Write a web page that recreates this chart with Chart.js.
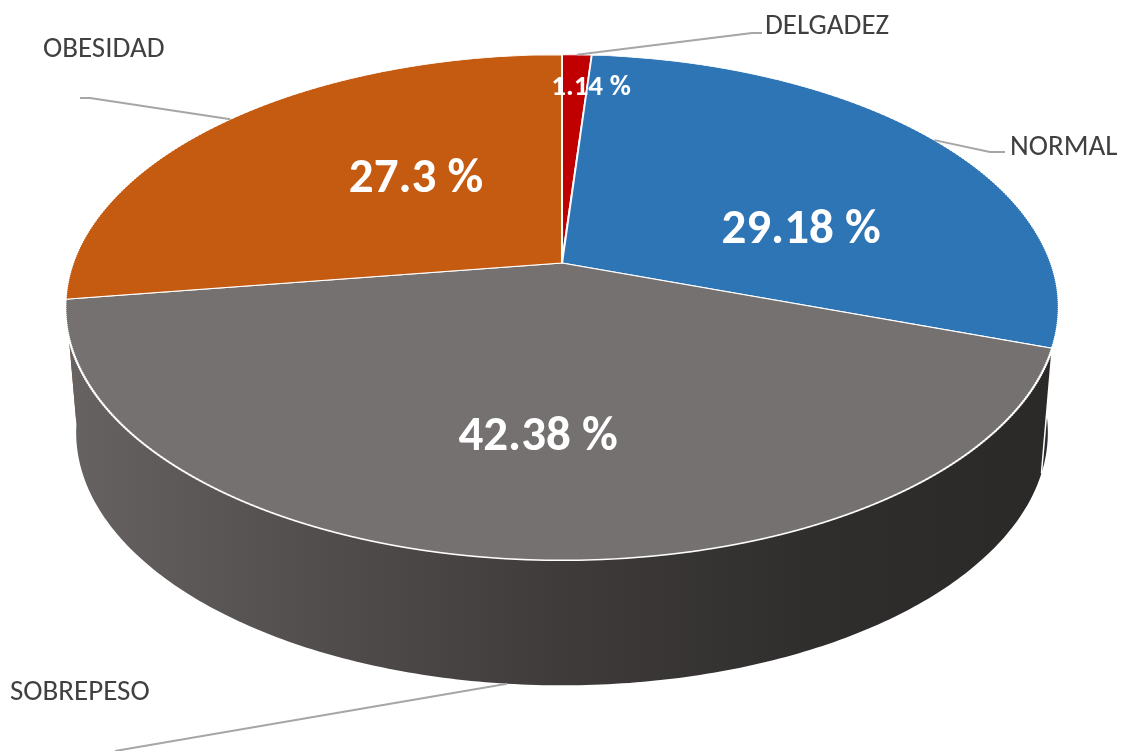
<!DOCTYPE html>
<html>
<head>
<meta charset="utf-8">
<script src="https://cdn.jsdelivr.net/npm/chart.js"></script>
<style>
  html, body { margin: 0; padding: 0; background: #fff; }
  canvas { display: block; }
</style>
</head>
<body>
<canvas id="pie3d" width="1127" height="751" style="width:1127px;height:751px"></canvas>
<script>
// ─── DATA ───────────────────────────────────────────────
const categories = ['DELGADEZ', 'NORMAL', 'SOBREPESO', 'OBESIDAD'];
const percentages = [1.14, 29.18, 42.38, 27.3];

// ─── STYLE / LAYOUT ─────────────────────────────────────
const topColors = ['#c00000', '#2e75b6', '#767171', '#c55a11'];
const sideColors = ['#7a0000', '#2a2c31', 'gradient', '#843c0c'];

// perspective of the disc: screen = c + (a*u, b*v) / (1 + p*v)
const PIE = { cx: 562, cy: 263, a: 489, b: 245, p: -0.176, depth: 125, taper: 0.978 };

// value labels: center x, baseline y, font size
const valueAnchors = [[591, 95, 29], [801, 243, 49], [538, 450, 49], [416, 192, 49]];
// category labels: text left x, baseline y, leader elbow points
const nameAnchors = [
    { x: 765, y: 34, line: [[752, 33], [762, 33]] },
    { x: 1010, y: 155, line: [[990, 152], [1005, 152]] },
    { x: 10, y: 700, line: [[115, 751]] },
    { x: 43, y: 57, line: [[90, 98], [80, 98]] }
];
const FONT = "'Carlito', 'Open Sans', 'Noto Sans', sans-serif";

// ─── HELPER: project a rim angle ────────────────────────
function rimPoint(theta, bottom) {
    const u = Math.cos(theta), v = Math.sin(theta);
    const w = 1 + PIE.p * v;
    let x = PIE.cx + PIE.a * u / w;
    let y = PIE.cy + PIE.b * v / w;
    if (bottom) {
        x = PIE.cx + (x - PIE.cx) * PIE.taper;
        y += PIE.depth;
    }
    return [x, y];
}

function sideFill(ctx, i) {
    if (sideColors[i] !== 'gradient') return sideColors[i];
    const g = ctx.createLinearGradient(PIE.cx - 500, 0, PIE.cx + 500, 0);
    g.addColorStop(0, '#666362');
    g.addColorStop(0.25, '#524e4d');
    g.addColorStop(0.5, '#3f3b3b');
    g.addColorStop(0.75, '#302d2d');
    g.addColorStop(1, '#2b2828');
    return g;
}

// ─── PLUGIN: perspective pie ────────────────────────────
const pie3dPlugin = {
    id: 'pie3d',
    beforeDatasetsDraw(chart) {
        const ctx = chart.ctx;
        const arcs = chart.getDatasetMeta(0).data;

        // side walls (front half), drawn back to front
        const sides = [];
        arcs.forEach((arc, i) => {
            const s = Math.max(arc.startAngle, 0);
            const e = Math.min(arc.endAngle, Math.PI);
            if (e > s) sides.push({ i, s, e, order: Math.abs((s + e) / 2 - Math.PI / 2) });
        });
        sides.sort((m, n) => n.order - m.order);
        sides.forEach(({ i, s, e }) => {
            const steps = Math.max(8, Math.ceil((e - s) * 80));
            ctx.save();
            ctx.beginPath();
            for (let k = 0; k <= steps; k++) {
                const p = rimPoint(s + (e - s) * k / steps, false);
                k ? ctx.lineTo(p[0], p[1]) : ctx.moveTo(p[0], p[1]);
            }
            for (let k = steps; k >= 0; k--) {
                const p = rimPoint(s + (e - s) * k / steps, true);
                ctx.lineTo(p[0], p[1]);
            }
            ctx.closePath();
            ctx.fillStyle = sideFill(ctx, i);
            ctx.fill();
            ctx.restore();
        });

        // white seams where slices meet on the side
        ctx.save();
        ctx.strokeStyle = '#ffffff';
        ctx.lineWidth = 1.5;
        arcs.forEach((arc) => {
            const t = arc.endAngle;
            if (t > 0.18 && t < Math.PI - 0.18) {
                const top = rimPoint(t, false), bot = rimPoint(t, true);
                ctx.beginPath();
                ctx.moveTo(top[0], top[1]);
                ctx.lineTo(bot[0], bot[1]);
                ctx.stroke();
            }
        });
        ctx.restore();

        // top face: the library's arcs, redrawn in thin horizontal bands,
        // each band with the local linear part of the perspective mapping
        const first = arcs[0];
        const x0 = first.x, y0 = first.y, R = first.outerRadius;
        const yTop = Math.floor(PIE.cy - PIE.b / (1 - PIE.p)) - 3;
        const yBot = Math.ceil(PIE.cy + PIE.b / (1 + PIE.p)) + 3;
        const band = 2;
        for (let ya = yTop; ya < yBot; ya += band) {
            const ym = ya + band / 2;
            const dy = ym - PIE.cy;
            const v0 = dy / (PIE.b - PIE.p * dy);
            const w0 = 1 + PIE.p * v0;
            const sx = PIE.a / (w0 * R);
            const sy = PIE.b / (w0 * w0 * R);
            ctx.save();
            ctx.beginPath();
            ctx.rect(0, ya, chart.width, band);
            ctx.clip();
            ctx.transform(sx, 0, 0, sy, PIE.cx - sx * x0, ym - sy * (y0 + v0 * R));
            arcs.forEach(arc => arc.draw(ctx));
            ctx.restore();
        }
        return false;
    },
    afterDraw(chart) {
        const ctx = chart.ctx;
        const arcs = chart.getDatasetMeta(0).data;

        // leader lines
        ctx.save();
        ctx.strokeStyle = '#a6a6a6';
        ctx.lineWidth = 2;
        ctx.lineJoin = 'round';
        arcs.forEach((arc, i) => {
            const mid = (arc.startAngle + arc.endAngle) / 2;
            const start = rimPoint(mid, Math.sin(mid) > 0.5);
            ctx.beginPath();
            ctx.moveTo(start[0], start[1]);
            nameAnchors[i].line.forEach(p => ctx.lineTo(p[0], p[1]));
            ctx.stroke();
        });
        ctx.restore();

        // category names
        ctx.save();
        ctx.fillStyle = '#404040';
        ctx.font = '29px ' + FONT;
        ctx.textAlign = 'left';
        ctx.textBaseline = 'alphabetic';
        categories.forEach((name, i) => {
            ctx.fillText(name, nameAnchors[i].x, nameAnchors[i].y);
        });
        ctx.restore();

        // percentage values
        ctx.save();
        ctx.fillStyle = '#ffffff';
        ctx.textAlign = 'center';
        ctx.textBaseline = 'alphabetic';
        percentages.forEach((v, i) => {
            const [x, y, size] = valueAnchors[i];
            ctx.font = 'bold ' + size + 'px ' + FONT;
            ctx.fillText(v + ' %', x, y);
        });
        ctx.restore();
    }
};

// ─── CHART ──────────────────────────────────────────────
new Chart(document.getElementById('pie3d').getContext('2d'), {
    type: 'pie',
    data: {
        labels: categories,
        datasets: [{
            data: percentages,
            backgroundColor: topColors,
            borderColor: '#ffffff',
            borderWidth: 1.6,
            clip: false
        }]
    },
    options: {
        responsive: false,
        animation: false,
        events: [],
        layout: { padding: 0 },
        plugins: {
            legend: { display: false },
            tooltip: { enabled: false }
        }
    },
    plugins: [pie3dPlugin]
});
</script>
</body>
</html>
